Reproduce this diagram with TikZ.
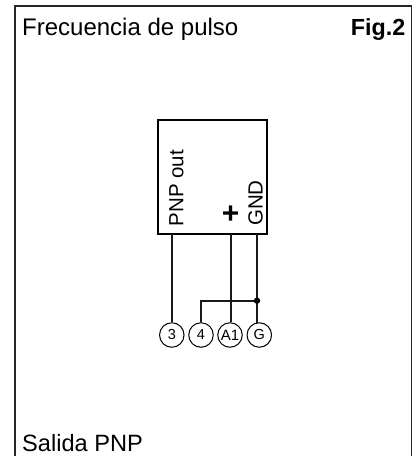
\documentclass[tikz,border=0pt]{standalone}
\usepackage{fontspec}
\setmainfont{Liberation Sans}
\usetikzlibrary{calc}
\begin{document}
\begin{tikzpicture}[x=1pt,y=-1pt,
  wire/.style={line width=1.6pt,black!90},
  term/.style={circle,draw,line width=1pt,minimum size=24.5pt,inner sep=0pt,font=\fontsize{14.5}{14.5}\selectfont},
  big/.style={inner sep=0pt,font=\fontsize{24}{24}\selectfont},
  lab/.style={inner sep=0pt,rotate=90,font=\fontsize{20.5}{20.5}\selectfont,anchor=base west}]
\useasboundingbox (0,0) rectangle (417,456);
\fill[white] (0,0) rectangle (417,456);
\coordinate (fbl) at (15,460);
\coordinate (ftl) at (15,6);
\coordinate (ftr) at (411.5,6);
\coordinate (fbr) at (411.5,460);
\draw[line width=1.5pt,black!85] (fbl) -- (ftl) -- (ftr) -- (fbr);
\node[big,anchor=base west] (title) at (22,35.5) {Frecuencia de pulso};
\node[big,anchor=base east,font=\fontsize{23.3}{24}\selectfont\bfseries] (fig) at (405.5,35.5) {Fig.2};
\node[big,anchor=base west,font=\fontsize{23.6}{24}\selectfont] (sal) at (22,451.5) {Salida PNP};
\node[draw,line width=1.6pt,minimum width=109pt,minimum height=114pt,inner sep=0pt] (box) at (212.5,177) {};
\coordinate (p3) at (172,234);
\coordinate (pp) at (231,234);
\coordinate (pg) at (257,234);
\node[lab] (pnp) at (183.3,226.5) {PNP out};
\node[lab] (gnd) at (262.7,226) {GND};
\node[inner sep=0pt,font=\fontsize{30}{30}\selectfont\bfseries] (plus) at (230.7,214.5) {+};
\node[term] (t3) at (171.8,335) {3};
\node[term] (t4) at (201,335) {4};
\node[term,font=\fontsize{15}{15}\selectfont] (tA) at (230,335) {A1};
\node[term] (tG) at (259.3,335) {G};
\coordinate (j) at (257,300.7);
\coordinate (c4) at (201,300.7);
\draw[wire] (p3) -- (t3.north -| p3);
\draw[wire] (pp) -- (tA.north -| pp);
\draw[wire] (pg) -- (j) -- ($(tG.center)+(-2.3,-12.0)$);
\draw[wire] (t4.north) -- (c4) -- (j);
\fill (j) circle (3.2pt);
\end{tikzpicture}
\end{document}
